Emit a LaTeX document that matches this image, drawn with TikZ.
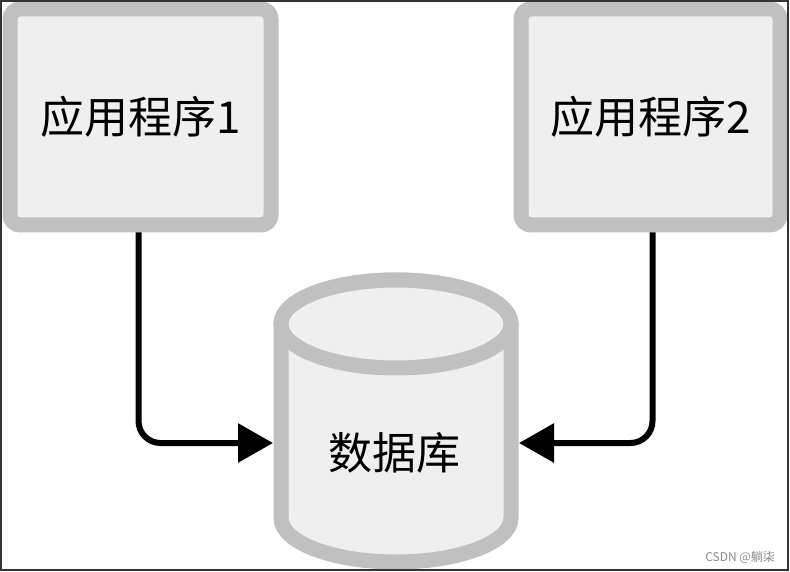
\documentclass[tikz,border=0pt]{standalone}
\usepackage{fontspec}
\newfontfamily\cjk{Noto Sans CJK SC}
\usetikzlibrary{arrows.meta}
\definecolor{boxgray}{HTML}{C0C0C0}
\definecolor{boxfill}{HTML}{EFEFEF}
\definecolor{markgray}{HTML}{8A8A8A}
\tikzset{
  appbox/.style={rectangle, rounded corners=10pt, draw=boxgray, fill=boxfill,
    line width=15pt, minimum height=216pt, font=\cjk\fontsize{44}{48}\selectfont, inner sep=0pt},
  dbshape/.style={draw=boxgray, fill=boxfill, line width=15pt},
  dblabel/.style={font=\cjk\fontsize{44}{48}\selectfont, inner sep=0pt},
  conn/.style={line width=6pt, black, rounded corners=22pt, -{Triangle[length=35pt,width=38pt]}}
}
\begin{document}
\begin{tikzpicture}[x=1pt,y=1pt]
\useasboundingbox (0,0) rectangle (790,-572);
\fill[white] (0,0) rectangle (790,-572);
% cylinder
\path[dbshape] (281,-324) -- (281,-518)
  arc[start angle=180,end angle=360,x radius=115,y radius=44]
  -- (511,-324)
  arc[start angle=0,end angle=180,x radius=115,y radius=44] -- cycle;
\draw[dbshape] (396,-324) ellipse[x radius=115, y radius=44];
\node[dblabel] (db) at (394,-453) {数据库};
\coordinate (dbL) at (273,-443);
\coordinate (dbR) at (519,-443);
% boxes
\node[appbox, minimum width=261pt] (app1) at (140.5,-117) {应用程序1};
\node[appbox, minimum width=259pt] (app2) at (650.5,-117) {应用程序2};
% connectors
\draw[conn] ([xshift=-2pt]app1.south) |- (dbL);
\draw[conn] ([xshift=2pt]app2.south) |- (dbR);
% watermark
\node[anchor=east, text=markgray, font=\cjk\fontsize{12}{14}\selectfont, inner sep=0pt] (wm) at (775,-557) {CSDN @躺柒};
% frame
\draw[line width=2pt, black!80] (1,-1) rectangle (788,-570);
\end{tikzpicture}
\end{document}
